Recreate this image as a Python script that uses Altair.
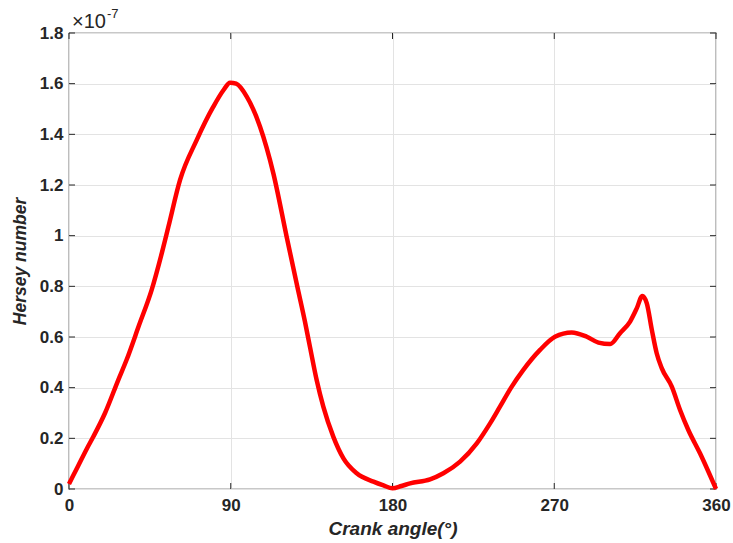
import altair as alt
import pandas as pd

angle = [0, 5, 10, 13.5, 20, 27.4, 32, 39, 46, 51.6, 55.3, 61.8, 71.1, 80.3, 86, 89.6, 93,
         98.9, 106.3, 113.7, 121.1, 127, 131.3, 134.1, 137.8, 141.5, 147.1, 152.7, 160.1,
         169.4, 175, 180, 185, 189.8, 200.9, 208.3, 217.6, 226.9, 234.3, 239.8, 246, 252.8,
         262.1, 270.4, 279.7, 288.1, 294.6, 301.1, 306.6, 312.2, 315.9, 319, 321.5, 324.3,
         327, 329.8, 335.4, 340, 344.6, 351.1, 360]
hersey = [0.02, 0.09, 0.16, 0.206, 0.299, 0.43, 0.509, 0.647, 0.786, 0.93, 1.035, 1.22,
          1.378, 1.509, 1.575, 1.604, 1.6, 1.549, 1.43, 1.246, 0.996, 0.80, 0.66, 0.56,
          0.43, 0.325, 0.206, 0.121, 0.062, 0.029, 0.014, 0.003, 0.012, 0.022, 0.038,
          0.062, 0.108, 0.18, 0.259, 0.325, 0.40, 0.47, 0.549, 0.601, 0.618, 0.601, 0.578,
          0.572, 0.615, 0.661, 0.713, 0.762, 0.733, 0.628, 0.536, 0.477, 0.404, 0.312,
          0.233, 0.141, 0.0]

x_ticks = [0, 90, 180, 270, 360]
y_ticks = [0, 0.2, 0.4, 0.6, 0.8, 1.0, 1.2, 1.4, 1.6, 1.8]

W, H = 647, 456
FONT = "Liberation Sans"
DARK = "#262626"

df = pd.DataFrame({"angle": angle, "h": hersey})
dfx = pd.DataFrame({"angle": x_ticks})
dfy = pd.DataFrame({"h": y_ticks})

xscale = alt.Scale(domain=[0, 360], nice=False, zero=False)
yscale = alt.Scale(domain=[0, 1.8], nice=False, zero=False)

x_axis = alt.Axis(values=x_ticks, format="d", title="Crank angle(°)", ticks=False,
                  domain=False, grid=True, gridColor="#e3e3e3", gridWidth=1,
                  labelFont=FONT, labelFontWeight="bold", labelFontSize=17,
                  labelColor=DARK, labelPadding=8, labelFlush=False,
                  titleFont=FONT, titleFontWeight="bold", titleFontStyle="italic",
                  titleFontSize=19, titleColor=DARK, titlePadding=6)
y_axis = alt.Axis(values=y_ticks, labelExpr="format(datum.value, '.1~f')",
                  title="Hersey number", ticks=False, domain=False, grid=True,
                  gridColor="#e3e3e3", gridWidth=1,
                  labelFont=FONT, labelFontWeight="bold", labelFontSize=17,
                  labelColor=DARK, labelPadding=6, labelFlush=False,
                  titleFont=FONT, titleFontWeight="bold", titleFontStyle="italic",
                  titleFontSize=17.5, titleColor=DARK, titlePadding=10)

X = alt.X("angle:Q", scale=xscale, axis=x_axis)
Y = alt.Y("h:Q", scale=yscale, axis=y_axis)

line = alt.Chart(df).mark_line(color="#ff0000", strokeWidth=4.5, interpolate="monotone").encode(
    x=X, y=Y)

tick_len = 6
xt_bottom = alt.Chart(dfx).mark_rule(color=DARK, strokeWidth=1).encode(
    x=X, y=alt.value(H), y2=alt.value(H - tick_len))
xt_top = alt.Chart(dfx).mark_rule(color=DARK, strokeWidth=1).encode(
    x=X, y=alt.value(0), y2=alt.value(tick_len))
yt_left = alt.Chart(dfy).mark_rule(color=DARK, strokeWidth=1).encode(
    y=Y, x=alt.value(0), x2=alt.value(tick_len))
yt_right = alt.Chart(dfy).mark_rule(color=DARK, strokeWidth=1).encode(
    y=Y, x=alt.value(W), x2=alt.value(W - tick_len))

exp_base = alt.Chart(pd.DataFrame({"s": ["×10"]})).mark_text(
    font=FONT, fontSize=20, color=DARK, align="left", baseline="alphabetic").encode(
    text="s:N", x=alt.value(3), y=alt.value(-5))
exp_sup = alt.Chart(pd.DataFrame({"s": ["-7"]})).mark_text(
    font=FONT, fontSize=13, color=DARK, align="left", baseline="alphabetic").encode(
    text="s:N", x=alt.value(38), y=alt.value(-15))

chart = alt.layer(xt_bottom, xt_top, yt_left, yt_right, line, exp_base, exp_sup).properties(
    width=W, height=H,
    autosize=alt.AutoSizeParams(type="none"),
    padding={"left": 69, "top": 33, "right": 17, "bottom": 54},
    background="white",
).configure_view(stroke=DARK, strokeWidth=1.2)

chart.save("out.html", embed_options={"renderer": "svg", "actions": False})
